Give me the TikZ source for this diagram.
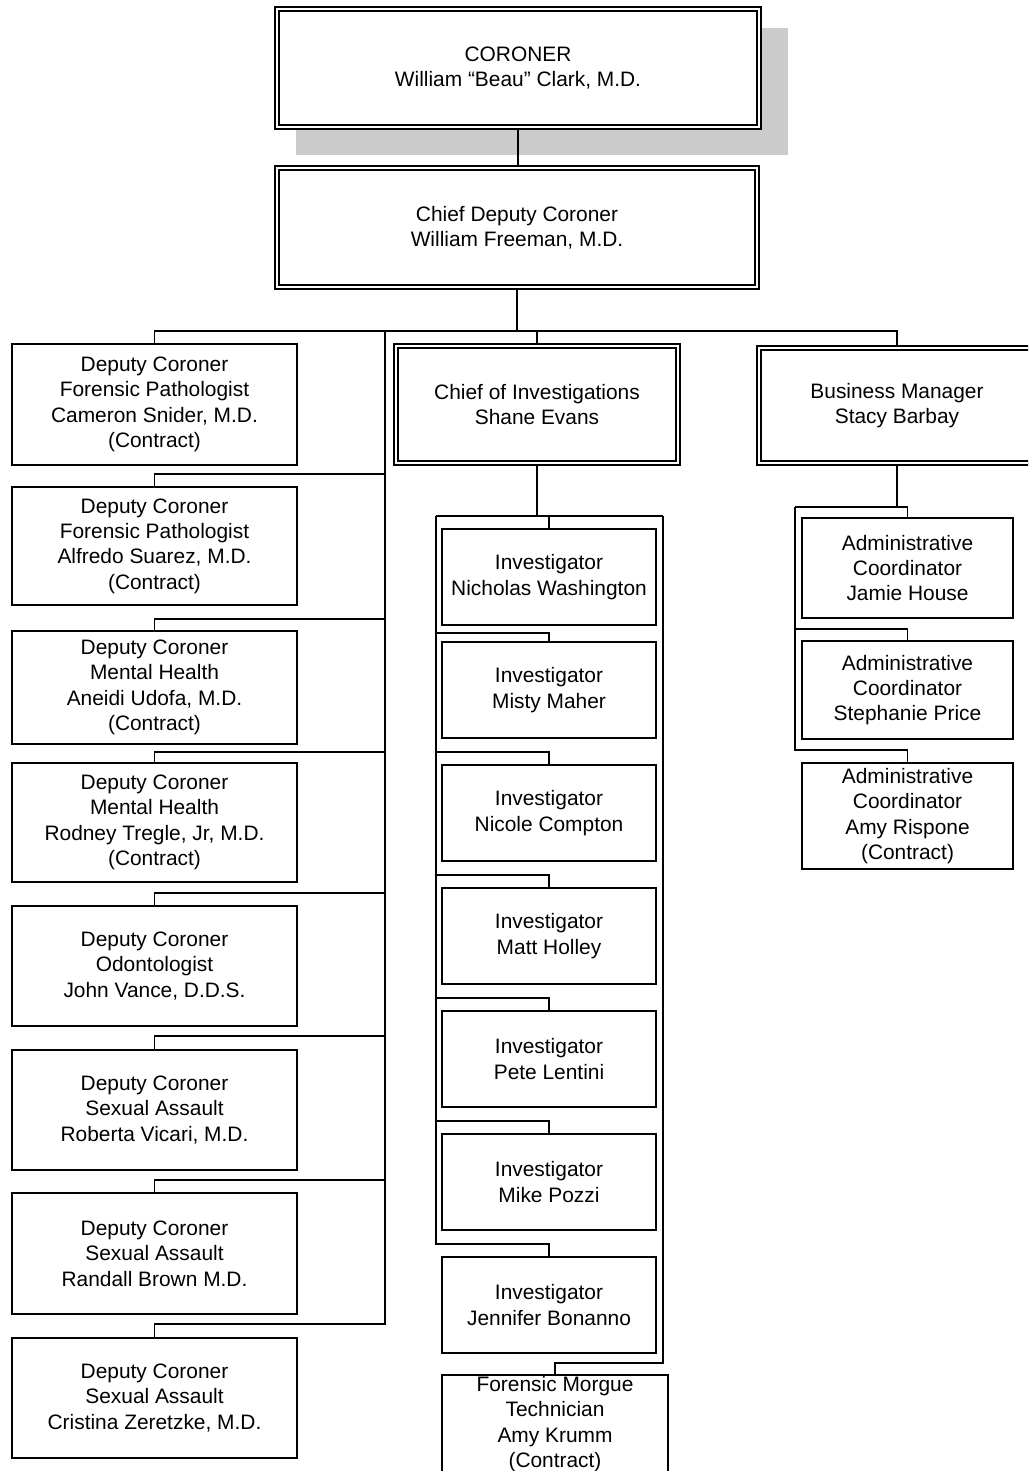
\documentclass[tikz,border=0pt]{standalone}
\usepackage{fontspec}
\setmainfont{Liberation Sans}
\usetikzlibrary{backgrounds}
\begin{document}
\begin{tikzpicture}[x=1pt,y=-1pt,
  every node/.style={font=\fontsize{20.9}{25.3}\selectfont, align=center, inner sep=0pt},
  box/.style={draw, line width=1.7pt, fill=white},
  dbox/.style={draw, double, double distance=2.8pt, line width=1.6pt, fill=white},
  dep/.style={box, minimum width=285.3pt},
  inv/.style={box, minimum width=214.3pt, minimum height=96.3pt},
  adm/.style={box, minimum width=211.3pt},
  conn/.style={line width=1.7pt},
  trunk/.style={line width=2.3pt}]
\useasboundingbox (0,0) rectangle (1028,1471);
\clip (0,0) rectangle (1028,1471);

% top
\node[dbox, minimum width=482pt, minimum height=118pt] (coroner) at (518,68) {CORONER\\William “Beau” Clark, M.D.};
\node[dbox, minimum width=480pt, minimum height=119pt] (chief) at (517,227.5) {Chief Deputy Coroner\\William Freeman, M.D.};
\node[dbox, minimum width=282pt, minimum height=117pt] (ci) at (537,404.5) {Chief of Investigations\\Shane Evans};
\node[dbox, minimum width=276pt, minimum height=115pt] (bm) at (897,405.5) {Business Manager\\Stacy Barbay};

% deputies
\node[dep, minimum height=121.3pt] (d1) at (154.5,404.5) {Deputy Coroner\\Forensic Pathologist\\Cameron Snider, M.D.\\(Contract)};
\node[dep, minimum height=118.3pt] (d2) at (154.5,546) {Deputy Coroner\\Forensic Pathologist\\Alfredo Suarez, M.D.\\(Contract)};
\node[dep, minimum height=113.3pt] (d3) at (154.5,687.5) {Deputy Coroner\\Mental Health\\Aneidi Udofa, M.D.\\(Contract)};
\node[dep, minimum height=119.3pt] (d4) at (154.5,822.5) {Deputy Coroner\\Mental Health\\Rodney Tregle, Jr, M.D.\\(Contract)};
\node[dep, minimum height=120.3pt] (d5) at (154.5,966) {Deputy Coroner\\Odontologist\\John Vance, D.D.S.};
\node[dep, minimum height=120.3pt] (d6) at (154.5,1110) {Deputy Coroner\\Sexual Assault\\Roberta Vicari, M.D.};
\node[dep, minimum height=121.3pt] (d7) at (154.5,1253.5) {Deputy Coroner\\Sexual Assault\\Randall Brown M.D.};
\node[dep, minimum height=120.3pt] (d8) at (154.5,1398) {Deputy Coroner\\Sexual Assault\\Cristina Zeretzke, M.D.};

% investigators
\node[inv] (i1) at (549,577) {Investigator\\Nicholas Washington};
\node[inv] (i2) at (549,690) {Investigator\\Misty Maher};
\node[inv] (i3) at (549,813) {Investigator\\Nicole Compton};
\node[inv] (i4) at (549,936) {Investigator\\Matt Holley};
\node[inv] (i5) at (549,1059) {Investigator\\Pete Lentini};
\node[inv] (i6) at (549,1182) {Investigator\\Mike Pozzi};
\node[inv] (i7) at (549,1305) {Investigator\\Jennifer Bonanno};
\node[box, minimum width=226.3pt, minimum height=98.3pt] (fm) at (555,1424) {Forensic Morgue\\Technician\\Amy Krumm\\(Contract)};

% administration
\node[adm, minimum height=100.3pt] (a1) at (907.5,568) {Administrative\\Coordinator\\Jamie House};
\node[adm, minimum height=98.3pt] (a2) at (907.5,690) {Administrative\\Coordinator\\Stephanie Price};
\node[adm, minimum height=106.3pt] (a3) at (907.5,816) {Administrative\\Coordinator\\Amy Rispone\\(Contract)};

\coordinate (bus) at (517,331);
\coordinate (spine) at (385,331);
\coordinate (ileft) at (436,516);
\coordinate (iright) at (663,516);
\coordinate (aleft) at (795,507);

\begin{scope}[on background layer]
\fill[gray!40] ([xshift=20pt,yshift=-27pt]coroner.south west) rectangle ([xshift=28pt,yshift=-20pt]coroner.north east);
\draw[trunk] (coroner.south) -- (coroner.south |- chief.north);
\draw[trunk] (chief.south) -- (bus);
\draw[conn] (d1.north) |- (bm.north |- bus) -- (bm.north);
\draw[conn] (ci.north) -- (ci.north |- bus);
\foreach \n/\o in {d2/12,d3/11,d4/10,d5/12,d6/13,d7/12,d8/13}
  \draw[conn] (\n.north) -- ++(0,-\o) -| (spine);
% investigators frame
\draw[conn] (ci.south) -- (ci.south |- ileft);
\draw[conn] (i1.north) -- (i1.north |- ileft);
\draw[conn] (ileft) -- (iright);
\foreach \n/\o in {i2/8,i3/12,i4/12,i5/12,i6/12,i7/12}
  \draw[conn] (\n.north) -- ++(0,-\o) -| (ileft);
\draw[conn] (fm.north) -- ++(0,-11) -| (iright);
% admin frame
\draw[trunk] (bm.south) -- (bm.south |- aleft);
\draw[conn] (aleft) -- (a1.north |- aleft) -- (a1.north);
\foreach \n/\o in {a2/11,a3/12}
  \draw[conn] (\n.north) -- ++(0,-\o) -| (aleft);
\end{scope}
\end{tikzpicture}
\end{document}
